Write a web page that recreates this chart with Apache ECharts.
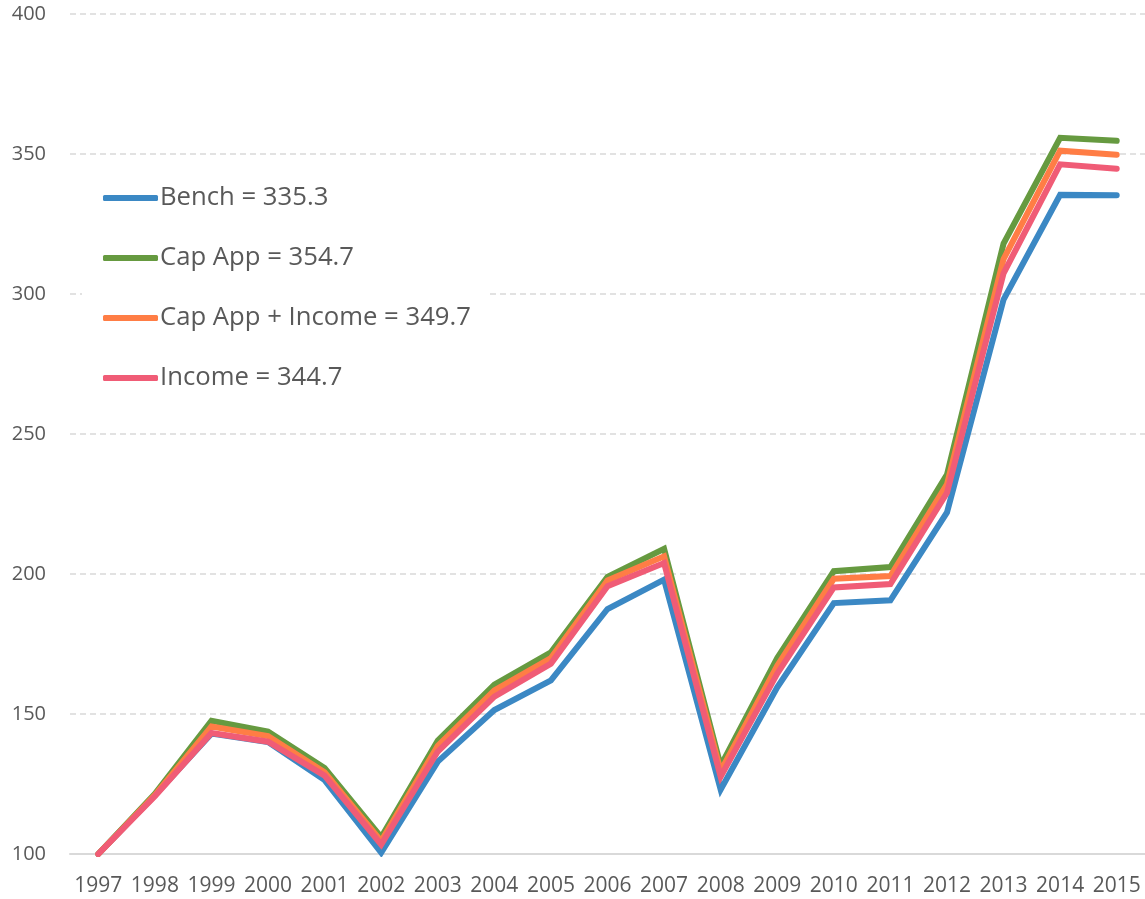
<!DOCTYPE html>
<html>
<head>
<meta charset="utf-8">
<script src="https://cdn.jsdelivr.net/npm/echarts@6/dist/echarts.min.js"></script>
<style>
html,body{margin:0;padding:0;background:#fff;}
#c{width:1145px;height:899px;}
</style>
</head>
<body>
<div id="c"></div>
<script>
var years = ['1997','1998','1999','2000','2001','2002','2003','2004','2005','2006','2007','2008','2009','2010','2011','2012','2013','2014','2015'];
var bench = [100, 121, 143, 140, 126.4, 100.5, 133, 151.4, 162, 187.5, 198, 123, 159.5, 189.6, 190.6, 222, 298, 335.4, 335.3];
var capApp = [100, 121.5, 147.6, 143.7, 130.7, 106, 140.5, 160.5, 172, 199, 209, 131.5, 170, 201, 202.5, 235.5, 318, 355.8, 354.7];
var capAppIncome = [100, 121, 145.5, 142.1, 129.2, 104.6, 138.6, 158.4, 170, 197.7, 206.3, 129.6, 167.2, 198.3, 199.3, 232, 312.5, 351.2, 349.7];
var income = [100, 120.6, 143.2, 140.1, 128, 103.4, 136.6, 156.2, 168, 195.6, 203.9, 127.6, 164.4, 195.2, 196.4, 229, 307.4, 346.3, 344.7];
var seriesNames = ['Bench = 335.3', 'Cap App = 354.7', 'Cap App + Income = 349.7', 'Income = 344.7'];
var colors = ['#3b88c4', '#669a40', '#ff7d45', '#f05c76'];
var yTicks = {min: 100, max: 400, interval: 50};

var chart = echarts.init(document.getElementById('c'), null, {renderer: 'canvas'});
function mk(name, data, color) {
  return {
    name: name, type: 'line', data: data, symbol: 'none', showSymbol: false,
    color: color,
    lineStyle: {width: 6, color: color, cap: 'round', join: 'miter'},
    emphasis: {disabled: true}
  };
}
chart.setOption({
  animation: false,
  textStyle: {fontFamily: 'Open Sans'},
  grid: {left: 70, right: 0, top: 14, bottom: 45, containLabel: false},
  legend: {
    orient: 'vertical', left: 82, top: 170,
    padding: [15, 17, 15, 21],
    backgroundColor: '#ffffff',
    itemWidth: 55, itemHeight: 6, itemGap: 34,
    data: seriesNames.map(function (n, i) {
      return {name: n, icon: 'roundRect', itemStyle: {color: colors[i], borderWidth: 0}};
    }),
    textStyle: {fontSize: 25.7, color: '#595959', fontFamily: 'Open Sans', lineHeight: 26, padding: [0, 0, 0, -3]},
    selectedMode: false,
    z: 10
  },
  xAxis: {
    type: 'category', data: years, boundaryGap: true,
    axisLine: {lineStyle: {color: '#d9d9d9', width: 2}},
    axisTick: {show: false},
    axisLabel: {color: '#595959', fontSize: 21, margin: 22, interval: 0, fontFamily: 'Open Sans'}
  },
  yAxis: {
    type: 'value', min: yTicks.min, max: yTicks.max, interval: yTicks.interval,
    axisLine: {show: false}, axisTick: {show: false},
    axisLabel: {color: '#595959', fontSize: 20, margin: 24, fontFamily: 'Open Sans'},
    splitLine: {lineStyle: {color: '#d9d9d9', type: [6, 4], width: 1.5}}
  },
  series: [
    mk(seriesNames[0], bench, colors[0]),
    mk(seriesNames[1], capApp, colors[1]),
    mk(seriesNames[2], capAppIncome, colors[2]),
    mk(seriesNames[3], income, colors[3])
  ]
});
</script>
</body>
</html>
